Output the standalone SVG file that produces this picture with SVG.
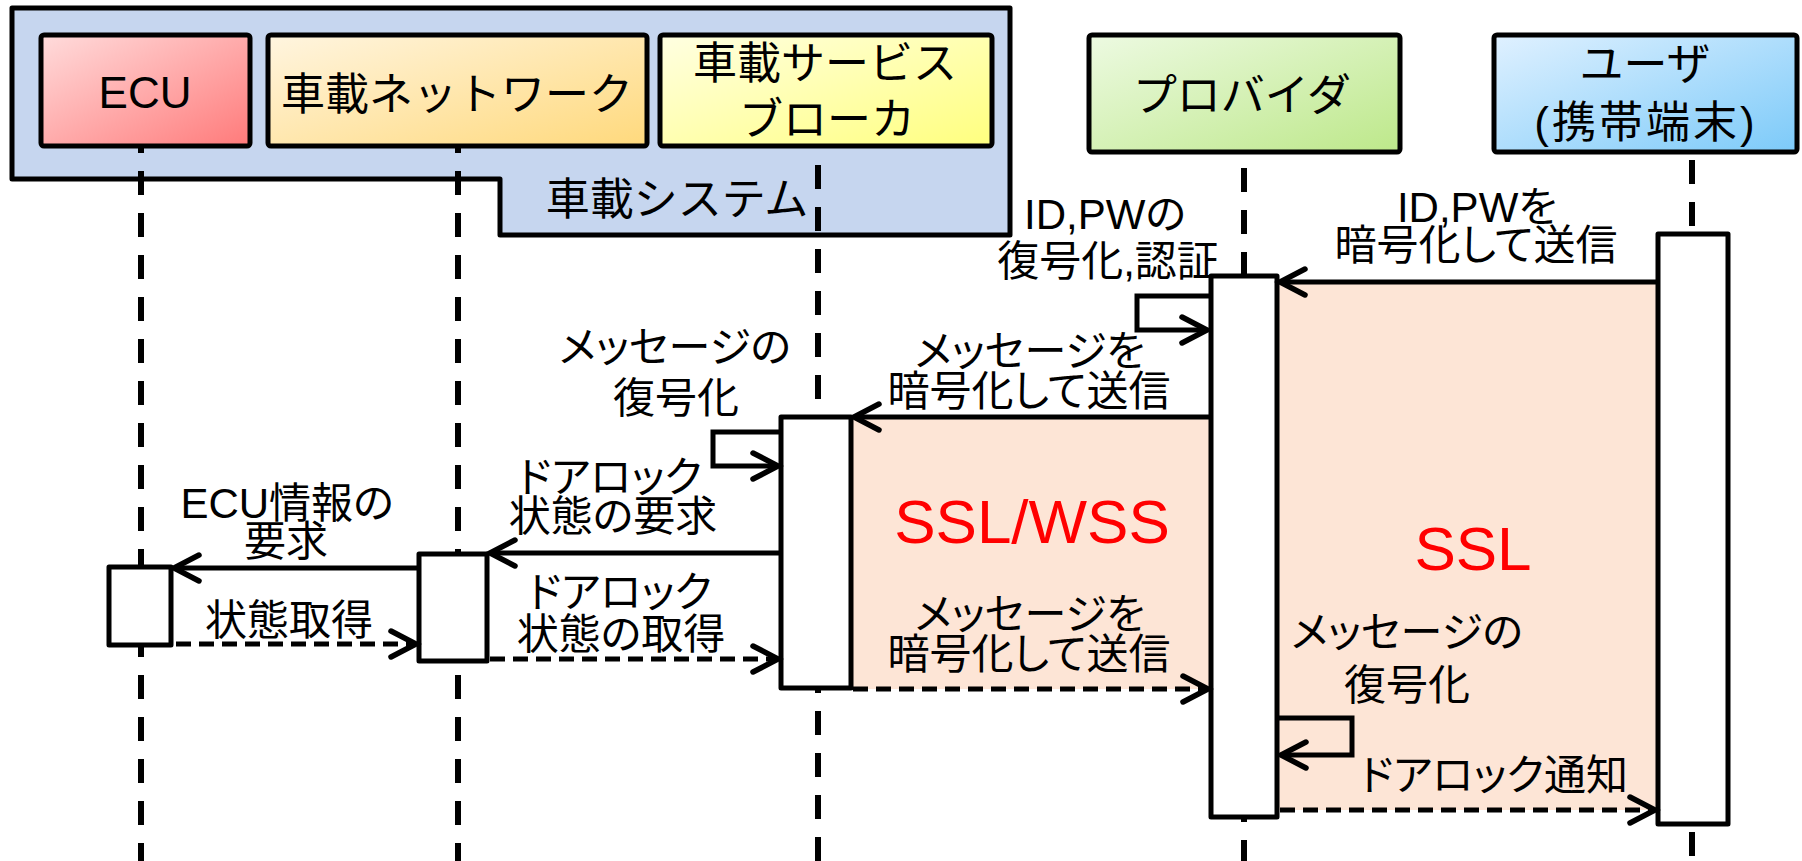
<svg xmlns="http://www.w3.org/2000/svg" width="1802" height="861" viewBox="0 0 1802 861">
<style>
text{font-family:"Liberation Sans","Noto Sans CJK JP",sans-serif;fill:#000}
.hd{font-size:44px;text-anchor:middle}
.lb{font-size:42px;text-anchor:middle;font-feature-settings:"palt"}
.red{font-size:62px;fill:#ff0000}
.box{stroke:#000;stroke-width:5;stroke-linejoin:round}
.act{fill:#fff;stroke:#000;stroke-width:5;stroke-linejoin:round}
.life{stroke:#000;stroke-width:6;stroke-dasharray:24 18;fill:none}
.msg{stroke:#000;stroke-width:5;fill:none;marker-end:url(#ah)}
.dash{stroke-dasharray:15 8}
.ssl{fill:#fde5d6}
</style>
<defs>
<linearGradient id="gEcu" x1="0" y1="0" x2="1" y2="1"><stop offset="0" stop-color="#ffdcdc"/><stop offset="1" stop-color="#ff7a7a"/></linearGradient>
<linearGradient id="gNet" x1="0" y1="0" x2="1" y2="1"><stop offset="0" stop-color="#fff5e0"/><stop offset="1" stop-color="#ffd97c"/></linearGradient>
<linearGradient id="gSvc" x1="0" y1="0" x2="1" y2="1"><stop offset="0" stop-color="#ffffe2"/><stop offset="1" stop-color="#ffff7e"/></linearGradient>
<linearGradient id="gPrv" x1="0" y1="0" x2="1" y2="1"><stop offset="0" stop-color="#edfae2"/><stop offset="1" stop-color="#bde88a"/></linearGradient>
<linearGradient id="gUsr" x1="0" y1="0" x2="1" y2="1"><stop offset="0" stop-color="#e0f1ff"/><stop offset="1" stop-color="#7ccaf9"/></linearGradient>
<marker id="ah" markerUnits="userSpaceOnUse" orient="auto" overflow="visible" markerWidth="1" markerHeight="1" refX="0" refY="0">
<path d="M-25,-13 L0,0 L-25,13" fill="none" stroke="#000" stroke-width="5.5" stroke-linecap="round" stroke-linejoin="miter" stroke-dasharray="none"/>
</marker>
</defs>
<rect width="1802" height="861" fill="#fff"/>

<g id="ssl-zones">
<rect class="ssl" x="1277" y="282" width="380" height="528"/>
<rect class="ssl" x="851" y="417" width="360" height="272"/>
</g>

<g id="node-vehicle-system">
<path class="box" d="M12,8 H1010 V235 H500 V179 H12 Z" fill="#c6d6ef"/>
<text class="hd" x="677" y="215">車載システム</text>
</g>

<g id="node-ecu">
<line class="life" x1="141" y1="129" x2="141" y2="861"/>
<rect class="box" x="41" y="35" width="209" height="111" rx="3" fill="url(#gEcu)"/>
<text x="145" y="108" font-size="44" text-anchor="middle">ECU</text>
<rect class="act" x="109" y="567" width="62" height="78"/>
</g>

<g id="node-network">
<line class="life" x1="458" y1="129" x2="458" y2="861"/>
<rect class="box" x="268" y="35" width="379" height="111" rx="3" fill="url(#gNet)"/>
<text class="hd" x="457" y="110" font-size="42">車載ネットワーク</text>
<rect class="act" x="419" y="554" width="68" height="107"/>
</g>

<g id="node-service">
<line class="life" x1="818" y1="165" x2="818" y2="861"/>
<rect class="box" x="660" y="35" width="332" height="111" rx="3" fill="url(#gSvc)"/>
<text class="hd" x="825" y="79">車載サービス</text>
<text class="hd" x="827" y="135">ブローカ</text>
<rect class="act" x="781" y="417" width="70" height="271"/>
</g>

<g id="node-provider">
<line class="life" x1="1244" y1="168" x2="1244" y2="861"/>
<rect class="box" x="1089" y="35" width="311" height="117" rx="3" fill="url(#gPrv)"/>
<text class="hd" x="1242" y="111" font-size="43">プロバイダ</text>
<rect class="act" x="1211" y="276" width="66" height="541"/>
</g>

<g id="node-user">
<line class="life" x1="1692" y1="160" x2="1692" y2="861"/>
<rect class="box" x="1494" y="35" width="303" height="117" rx="3" fill="url(#gUsr)"/>
<text class="hd" x="1645" y="80">ユーザ</text>
<text class="hd" x="1646" y="138" font-size="46" letter-spacing="3">(携帯端末)</text>
<rect class="act" x="1658" y="234" width="70" height="590"/>
</g>

<g id="connectors">
<line class="msg" x1="1657" y1="282" x2="1280" y2="282"/>
<path class="msg" d="M1211,296 H1137 V330 H1207"/>
<line class="msg" x1="1211" y1="417" x2="854" y2="417"/>
<path class="msg" d="M780,432 H713 V466 H778"/>
<line class="msg" x1="780" y1="553" x2="490" y2="553"/>
<line class="msg" x1="418" y1="568" x2="174" y2="568"/>
<line class="msg dash" x1="176" y1="644" x2="416" y2="644"/>
<line class="msg dash" x1="490" y1="659" x2="778" y2="659"/>
<line class="msg dash" x1="853" y1="689" x2="1208" y2="689"/>
<path class="msg" d="M1278,718 H1352 V755 H1281"/>
<line class="msg dash" x1="1280" y1="810" x2="1655" y2="810"/>
</g>

<g id="labels">
<text class="lb" x="1477" y="222">ID,PWを</text>
<text class="lb" x="1476" y="260">暗号化して送信</text>
<text class="lb" x="1105" y="229">ID,PWの</text>
<text class="lb" x="1108" y="276">復号化,認証</text>
<text class="lb" x="1030" y="366">メッセージを</text>
<text class="lb" x="1029" y="406">暗号化して送信</text>
<text class="lb" x="675" y="362">メッセージの</text>
<text class="lb" x="676" y="413">復号化</text>
<text class="lb" x="610" y="492">ドアロック</text>
<text class="lb" x="613" y="531">状態の要求</text>
<text class="lb" x="287" y="518">ECU情報の</text>
<text class="lb" x="286" y="556">要求</text>
<text class="lb" x="289" y="635">状態取得</text>
<text class="lb" x="620" y="607">ドアロック</text>
<text class="lb" x="621" y="649">状態の取得</text>
<text class="lb" x="1030" y="629">メッセージを</text>
<text class="lb" x="1029" y="669">暗号化して送信</text>
<text class="lb" x="1407" y="647">メッセージの</text>
<text class="lb" x="1407" y="700">復号化</text>
<text class="lb" x="1494" y="790">ドアロック通知</text>
<text class="red" x="1032" y="543" text-anchor="middle">SSL/WSS</text>
<text class="red" x="1473" y="570" text-anchor="middle">SSL</text>
</g>
</svg>
